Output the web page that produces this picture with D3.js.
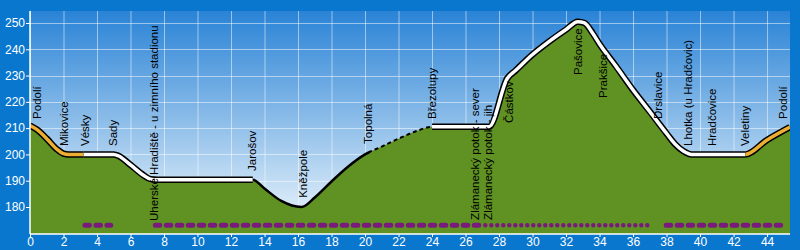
<!DOCTYPE html>
<html><head><meta charset="utf-8">
<script src="https://cdn.jsdelivr.net/npm/d3@7"></script>
<style>
html,body{margin:0;padding:0;background:#0a77cf;}
svg{display:block;}
text{font-family:"Liberation Sans",Arial,sans-serif;}
</style></head>
<body>
<script>
// ---- data ----
const profileKm  = [0, 0.4, 1.0, 1.6, 2.0, 2.3, 5.0, 5.3, 6.0, 6.8, 7.2, 7.6, 13.3, 14, 15, 16.2, 17, 18, 19, 20, 21, 22, 23, 24, 27.4, 28.5, 29, 30, 31, 32, 32.7, 33.1, 33.6, 34, 35, 36, 37, 38, 38.5, 39, 39.5, 42.7, 44, 45.37];
const profileEle = [211, 209.5, 206, 202, 200.3, 200, 200, 199.4, 196, 192, 190.6, 190.4, 190.4, 187, 182.3, 180, 183.6, 189.7, 195.4, 200, 203, 206, 208.7, 210.5, 210.5, 229, 232, 238, 243, 247.5, 250.5, 250, 246, 242, 233.4, 224.5, 216.3, 208, 204, 201.3, 200, 200, 205.5, 210.4];

const stationNames = ["Podolí","Mikovice","Vésky","Sady","Uherské Hradiště - u zimního stadionu","Jarošov","Kněžpole","Topolná","Březolupy","Zlámanecký potok - sever","Zlámanecký potok - jih","Částkov","Pašovice","Prakšice","Drslavice","Lhotka (u Hradčovic)","Hradčovice","Veletiny","Podolí"];
const stationKm    = [0.42, 2.03, 3.28, 4.96, 7.4, 13.25, 16.3, 20.18, 24.0, 26.57, 27.34, 28.6, 32.7, 34.2, 37.5, 39.3, 40.7, 42.7, 44.96];
const labelEle     = [213.5, 203.2, 203.2, 203.2, 174.7, 193.7, 183.5, 204.0, 213.5, 175.1, 175.1, 212.0, 230.2, 221.5, 213.5, 203.2, 203.2, 203.2, 213.5];

// line styles by km range
const lineSegments = [
  {from:0,    to:3.2,   style:"orange"},
  {from:3.2,  to:13.3,  style:"white"},
  {from:13.3, to:20.3,  style:"black"},
  {from:20.3, to:24.0,  style:"dashed"},
  {from:24.0, to:42.7,  style:"white"},
  {from:42.7, to:45.37, style:"orange"}
];
// bottom track markers
const trackSegments = [
  {from:3.1,  to:5.0,   style:"dash"},
  {from:7.3,  to:27.0,  style:"dash"},
  {from:27.0, to:37.3,  style:"dot"},
  {from:37.8, to:45.37, style:"dash"}
];
const xTicks = d3.range(0, 45, 2);
const yTicks = [180,190,200,210,220,230,240,250];

// ---- chart ----
const W = 800, H = 250;
const x = d3.scaleLinear().domain([0, 45.37]).range([30, 790]);
const y = d3.scaleLinear().domain([169.73, 254.56]).range([234, 11]);
const pts = profileKm.map((k,i)=>[k, profileEle[i]]);

const svg = d3.select("body").append("svg").attr("width", W).attr("height", H);
svg.append("rect").attr("width",W).attr("height",H).attr("fill","#0a77cf");

const defs = svg.append("defs");
const grad = defs.append("linearGradient").attr("id","bg").attr("x1",0).attr("y1",0).attr("x2",0).attr("y2",1);
grad.append("stop").attr("offset","0%").attr("stop-color","#2a83d6");
grad.append("stop").attr("offset","100%").attr("stop-color","#f2f9fd");

svg.append("rect").attr("x",x(0)).attr("y",y.range()[1]).attr("width",x.range()[1]-x(0)).attr("height",y.range()[0]-y.range()[1]).attr("fill","url(#bg)");

// grid
const g = svg.append("g");
g.selectAll("line.v").data(xTicks).join("line")
  .attr("x1",d=>x(d)+0.5).attr("x2",d=>x(d)+0.5).attr("y1",y.range()[1]).attr("y2",y.range()[0])
  .attr("stroke","#ffffff").attr("stroke-opacity",0.5).attr("stroke-width",1);
g.selectAll("line.h").data(yTicks).join("line")
  .attr("x1",x.range()[0]).attr("x2",x.range()[1]).attr("y1",d=>Math.round(y(d))+0.5).attr("y2",d=>Math.round(y(d))+0.5)
  .attr("stroke","#ffffff").attr("stroke-opacity",0.5).attr("stroke-width",1);

// area
const curve = d3.curveMonotoneX;
const area = d3.area().x(d=>x(d[0])).y0(y.range()[0]).y1(d=>y(d[1])).curve(curve);
svg.append("path").datum(pts).attr("d",area).attr("fill","#5f9223");

// line segments via clip
const line = d3.line().x(d=>x(d[0])).y(d=>y(d[1])).curve(curve);
lineSegments.forEach((s,i)=>{
  const id = "clip"+i;
  defs.append("clipPath").attr("id",id).append("rect")
    .attr("x",x(s.from)).attr("y",0).attr("width",x(s.to)-x(s.from)).attr("height",H);
  const gg = svg.append("g").attr("clip-path",`url(#${id})`);
  if (s.style==="orange" || s.style==="white") {
    gg.append("path").datum(pts).attr("d",line).attr("fill","none").attr("stroke","#000").attr("stroke-width",6.5).attr("stroke-linejoin","round");
    gg.append("path").datum(pts).attr("d",line).attr("fill","none").attr("stroke",s.style==="orange"?"#eeae32":"#ffffff").attr("stroke-width",3.5).attr("stroke-linejoin","round");
  } else if (s.style==="black") {
    gg.append("path").datum(pts).attr("d",line).attr("fill","none").attr("stroke","#000").attr("stroke-width",2.5);
  } else {
    gg.append("path").datum(pts).attr("d",line).attr("fill","none").attr("stroke","#000").attr("stroke-width",2).attr("stroke-dasharray","4,3");
  }
});

// track markers
const trackY = y(173.1);
trackSegments.forEach(s=>{
  const ln = svg.append("line").attr("x1",x(s.from)+3).attr("x2",x(s.to)-3).attr("y1",trackY).attr("y2",trackY)
    .attr("stroke","#7a1a7c").attr("stroke-linecap","round");
  if (s.style==="dash") ln.attr("stroke-width",5).attr("stroke-dasharray","4.5,6.5");
  else ln.attr("stroke-width",4.5).attr("stroke-dasharray","0,6");
});

// station labels
svg.append("g").selectAll("text").data(stationNames).join("text")
  .attr("transform",(d,i)=>`translate(${x(stationKm[i])},${y(labelEle[i])}) rotate(-90)`)
  .attr("dy","0.35em").attr("font-size",11.5).attr("fill","#000")
  .text(d=>d);

// axes
const ax = svg.append("g").attr("transform",`translate(0,${y.range()[0]})`)
  .call(d3.axisBottom(x).tickValues(xTicks).tickSize(3).tickPadding(0).tickFormat(d3.format("d")));
const ay = svg.append("g").attr("transform",`translate(${x.range()[0]},0)`)
  .call(d3.axisLeft(y).tickValues(yTicks).tickSize(4).tickPadding(1).tickFormat(d3.format("d")));
[ax,ay].forEach(a=>{
  a.select(".domain").attr("stroke","#ffffff").attr("stroke-width",1.5);
  a.selectAll(".tick line").attr("stroke","#ffffff");
  a.selectAll(".tick text").attr("fill","#ffffff").attr("font-size",12).attr("font-family","Liberation Sans, Arial, sans-serif");
});
ax.select(".domain").attr("d",`M${x.range()[0]},0H${x.range()[1]}`);
ay.select(".domain").attr("d",`M0,${y.range()[0]}V${y.range()[1]}`);
</script>
</body></html>
